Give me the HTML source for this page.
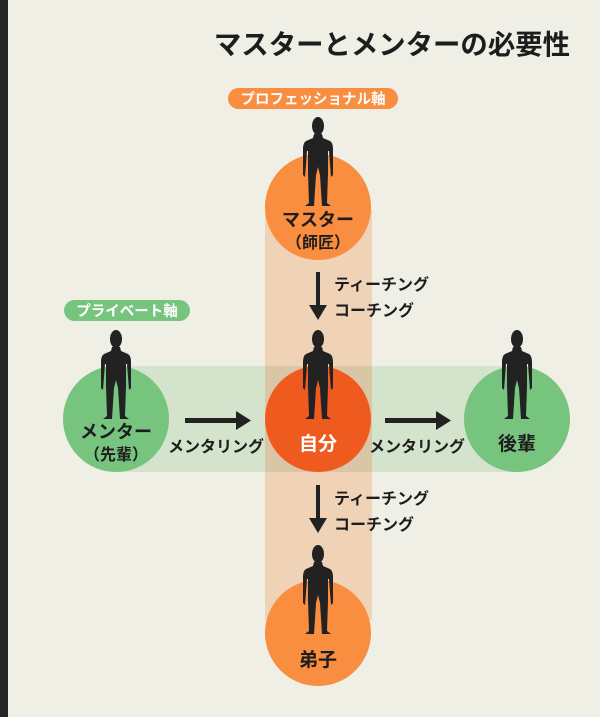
<!DOCTYPE html>
<html><head><meta charset="utf-8"><style>
html,body{margin:0;padding:0;background:#f0efe6;}
svg{display:block;}
text{font-family:"Liberation Sans","Noto Sans CJK JP",sans-serif;font-weight:bold;}
</style></head><body>
<svg width="600" height="717" viewBox="0 0 600 717" xmlns="http://www.w3.org/2000/svg">
<defs>
<g id="p">
<ellipse cx="0" cy="9" rx="6" ry="9" fill="#222"/>
<path d="M-4,17 L4,17 L5,21 L12,24 Q15,26 15,32 L15,58 L13,60 L11,34 L10,34 L10,56 L9,86 L13,89 L4,89 L2,58 L0,50 L-2,58 L-4,89 L-13,89 L-9,86 L-10,56 L-10,34 L-11,34 L-13,60 L-15,58 L-15,32 Q-15,26 -12,24 L-5,21 Z" fill="#222"/>
</g>
</defs>
<rect x="0" y="0" width="8" height="717" fill="#262626"/>
<text x="570" y="54" font-size="27.4" text-anchor="end" fill="#1d1d1d">マスターとメンターの必要性</text>
<rect x="265" y="210" width="107" height="410" fill="#f0d2b6"/>
<rect x="116" y="366" width="401" height="106" fill="#cfe0c5" opacity="0.85"/>
<rect x="265" y="366" width="107" height="106" fill="#d9c6a6"/>
<circle cx="318" cy="207" r="53" fill="#f98d40"/>
<circle cx="318" cy="419" r="53" fill="#ef5a1e"/>
<circle cx="116" cy="419" r="53" fill="#77c47f"/>
<circle cx="517" cy="419" r="53" fill="#77c47f"/>
<circle cx="318" cy="633" r="53" fill="#f98d40"/>
<use href="#p" x="318" y="117"/>
<use href="#p" x="318" y="330"/>
<use href="#p" x="116" y="330"/>
<use href="#p" x="517" y="330"/>
<use href="#p" x="318" y="545"/>
<rect x="228" y="88" width="170" height="21" rx="10.5" fill="#f98d40"/>
<text x="313" y="104" font-size="14.5" text-anchor="middle" fill="#fff">プロフェッショナル軸</text>
<rect x="64" y="300" width="126" height="21" rx="10.5" fill="#77c47f"/>
<text x="127" y="316" font-size="14.5" text-anchor="middle" fill="#fff">プライベート軸</text>
<text x="318" y="226" font-size="18" text-anchor="middle" fill="#1d1d1d">マスター</text>
<text x="318" y="248" font-size="16" text-anchor="middle" fill="#1d1d1d">（師匠）</text>
<text x="116" y="438" font-size="18" text-anchor="middle" fill="#1d1d1d">メンター</text>
<text x="116" y="460" font-size="16" text-anchor="middle" fill="#1d1d1d">（先輩）</text>
<text x="318" y="450" font-size="19" text-anchor="middle" fill="#fff">自分</text>
<text x="517" y="450" font-size="19" text-anchor="middle" fill="#1d1d1d">後輩</text>
<text x="318" y="666" font-size="19" text-anchor="middle" fill="#1d1d1d">弟子</text>
<g fill="#222">
<rect x="316" y="272" width="4" height="34"/><polygon points="309,305 327,305 318,320"/>
<rect x="316" y="485" width="4" height="34"/><polygon points="309,518 327,518 318,533"/>
<rect x="185" y="418" width="52" height="5"/><polygon points="236,411 251,420.5 236,430"/>
<rect x="385" y="418" width="52" height="5"/><polygon points="436,411 451,420.5 436,430"/>
</g>
<g font-size="16" fill="#1d1d1d">
<text x="334" y="290">ティーチング</text>
<text x="334" y="316">コーチング</text>
<text x="334" y="504">ティーチング</text>
<text x="334" y="530">コーチング</text>
<text x="168" y="452">メンタリング</text>
<text x="369" y="452">メンタリング</text>
</g>
</svg>
</body></html>
